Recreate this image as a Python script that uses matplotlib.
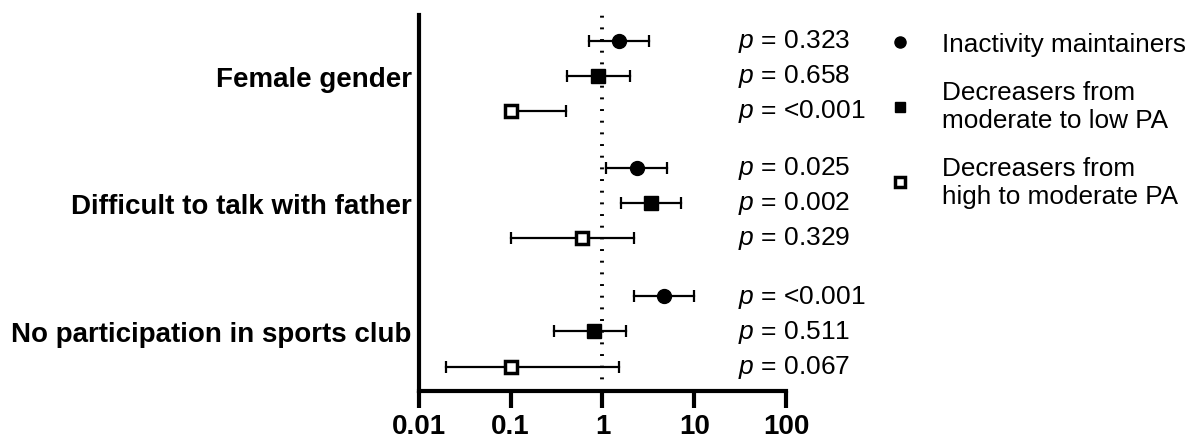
import matplotlib.pyplot as plt
from matplotlib.lines import Line2D

plt.rcParams['font.family'] = ['Liberation Sans', 'DejaVu Sans']
plt.rcParams['mathtext.fontset'] = 'custom'
plt.rcParams['mathtext.it'] = 'Liberation Sans:italic'
plt.rcParams['mathtext.rm'] = 'Liberation Sans'

# groups and rows (top to bottom)
groups = ["Female gender", "Difficult to talk with father", "No participation in sports club"]
series = ["Inactivity maintainers", "Decreasers from\nmoderate to low PA", "Decreasers from\nhigh to moderate PA"]

# odds ratios and 95% CI, per group, per series
odds = [[1.5, 0.9, 0.1],
        [2.4, 3.35, 0.6],
        [4.7, 0.8, 0.1]]
ci_low = [[0.71, 0.41, 0.1],
          [1.1, 1.6, 0.1],
          [2.2, 0.3, 0.02]]
ci_high = [[3.25, 1.97, 0.40],
           [5.1, 7.2, 2.2],
           [9.8, 1.8, 1.5]]
pvals = [["0.323", "0.658", "<0.001"],
         ["0.025", "0.002", "0.329"],
         ["<0.001", "0.511", "0.067"]]

group_y = [0.0, 3.63, 7.3]
row_step = 1.0

styles = [dict(marker='o', mfc='black', mec='black', ms=10),
          dict(marker='s', mfc='black', mec='black', ms=9.5),
          dict(marker='s', mfc='white', mec='black', ms=9, mew=2.5)]

fig = plt.figure(figsize=(11.93, 4.39), dpi=100)
ax = fig.add_axes([0.351, 0.107, 0.308, 0.857])

for g in range(3):
    for s in range(3):
        y = group_y[g] + s * row_step
        v = odds[g][s]
        lo, hi = ci_low[g][s], ci_high[g][s]
        # whisker line
        ax.plot([lo, hi], [y, y], color='black', lw=1.6, zorder=2)
        # caps only where the CI reaches past the marker
        for end in (lo, hi):
            if end != v:
                ax.plot([end], [y], marker='|', ms=9, mew=1.6, color='black', zorder=2)
        ax.plot([v], [y], linestyle='none', zorder=4, **styles[s])
        ax.text(30, y, r"$p$ = " + pvals[g][s], ha='left', va='center', fontsize=19)

ax.axvline(1, color='black', linestyle=(0, (0.5, 2.5)), linewidth=2.8, zorder=1)

ax.set_xscale('log')
ax.set_xlim(0.01, 100)
ax.set_ylim(10.0, -0.74)
ax.set_xticks([0.01, 0.1, 1, 10, 100])
ax.set_xticklabels(["0.01", "0.1", "1", "10", "100"], fontsize=20, fontweight='bold')
ax.minorticks_off()
ax.set_yticks([gy + row_step for gy in group_y])
ax.set_yticklabels(groups, fontsize=20, fontweight='bold')
ax.tick_params(axis='y', length=0, pad=5)
ax.tick_params(axis='x', length=12, width=3, direction='out', pad=4)

for side in ['top', 'right']:
    ax.spines[side].set_visible(False)
for side in ['left', 'bottom']:
    ax.spines[side].set_linewidth(3)

handles = [Line2D([], [], linestyle='none', **dict(styles[0], ms=8)),
           Line2D([], [], linestyle='none', **dict(styles[1], ms=7.5)),
           Line2D([], [], linestyle='none', **dict(styles[2], ms=7.5))]
fig.legend(handles, series, loc='upper left', bbox_to_anchor=(0.7322, 0.948),
           borderaxespad=0, frameon=False, fontsize=18.8, handletextpad=1.03,
           labelspacing=0.92, handlelength=1.2)

fig.savefig("out.png", dpi=100)
